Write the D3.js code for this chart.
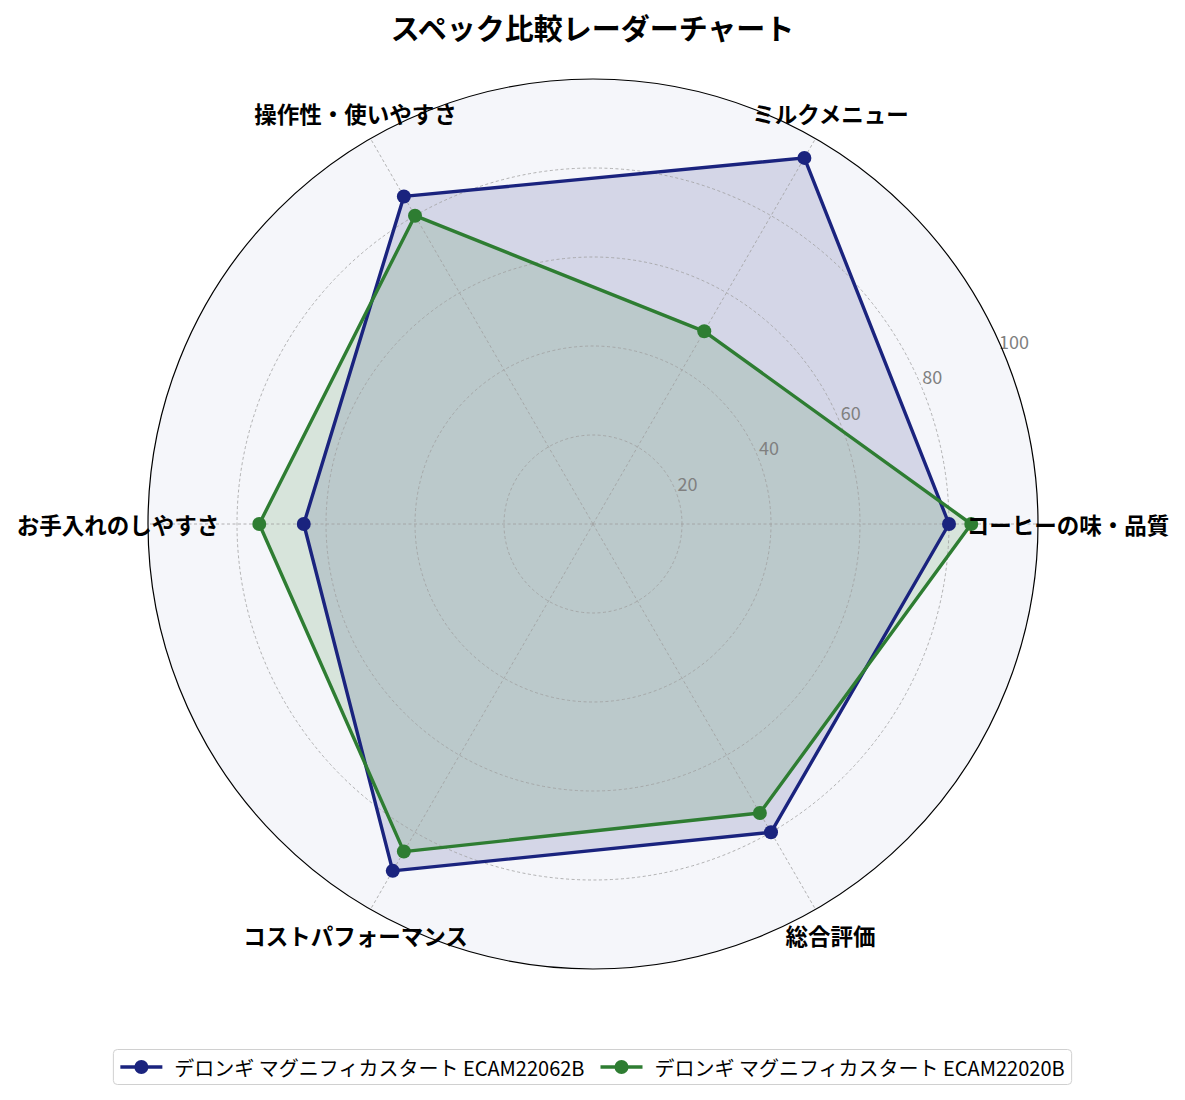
<!DOCTYPE html>
<html>
<head>
<meta charset="utf-8">
<script src="https://cdn.jsdelivr.net/npm/d3@7"></script>
<style>
  body { margin: 0; background: #fff; }
  svg { display: block; font-family: "Noto Sans CJK JP", "Noto Sans", sans-serif; }
</style>
</head>
<body>
<svg id="chart" width="1185" height="1100"></svg>
<script>
// chart data
const categories = ['コーヒーの味・品質', 'ミルクメニュー', '操作性・使いやすさ', 'お手入れのしやすさ', 'コストパフォーマンス', '総合評価'];
const seriesNames = ['デロンギ マグニフィカスタート ECAM22062B', 'デロンギ マグニフィカスタート ECAM22020B'];
const valuesA = [80, 95, 85, 65, 90, 80];
const valuesB = [85, 50, 80, 75, 85, 75];
const rTicks = [20, 40, 60, 80, 100];
const chartTitle = 'スペック比較レーダーチャート';

const colors = ['#1a237e', '#2e7d32'];
const width = 1185, cx = 593, cy = 524, outerR = 445;

const svg = d3.select('#chart');

const r = d3.scaleLinear().domain([0, 100]).range([0, outerR]);
// angle in radians, counter-clockwise from east
const theta = d3.scaleLinear().domain([0, categories.length]).range([0, 2 * Math.PI]);

function px(i, v) { return cx + r(v) * Math.cos(theta(i)); }
function py(i, v) { return cy - r(v) * Math.sin(theta(i)); }

const plot = svg.append('g');

// background disc
plot.append('circle')
	.attr('cx', cx).attr('cy', cy).attr('r', outerR)
	.attr('fill', '#f5f6fa');

// filled polygons
const radial = d3.lineRadial()
	.angle((d, i) => Math.PI / 2 - theta(i))
	.radius(d => r(d))
	.curve(d3.curveLinearClosed);

const series = [valuesA, valuesB];

series.forEach((vals, k) => {
	plot.append('path')
		.attr('transform', `translate(${cx},${cy})`)
		.attr('d', radial(vals))
		.attr('fill', colors[k])
		.attr('fill-opacity', 0.15)
		.attr('stroke', 'none');
});

// grid
const grid = plot.append('g');
grid.selectAll('circle.ring')
	.data(rTicks.filter(t => t < 100))
	.enter().append('circle')
	.attr('class', 'ring')
	.attr('cx', cx).attr('cy', cy)
	.attr('r', d => r(d))
	.attr('fill', 'none')
	.attr('stroke', '#a0a0a0')
	.attr('stroke-width', 0.8)
	.attr('stroke-dasharray', '3,2.5');

grid.selectAll('line.spoke')
	.data(categories)
	.enter().append('line')
	.attr('class', 'spoke')
	.attr('x1', cx).attr('y1', cy)
	.attr('x2', (d, i) => px(i, 100))
	.attr('y2', (d, i) => py(i, 100))
	.attr('stroke', '#a0a0a0')
	.attr('stroke-width', 0.8)
	.attr('stroke-dasharray', '3,2.5');

// radial tick labels
const tickAngle = 23.5 * Math.PI / 180;
grid.selectAll('text.rtick')
	.data(rTicks)
	.enter().append('text')
	.attr('class', 'rtick')
	.attr('x', d => cx + (r(d) + 14) * Math.cos(tickAngle))
	.attr('y', d => cy - (r(d) + 14) * Math.sin(tickAngle))
	.attr('text-anchor', 'middle')
	.attr('dominant-baseline', 'central')
	.attr('font-size', 18)
	.attr('fill', '#808080')
	.text(d => d);

// lines and markers
series.forEach((vals, k) => {
	plot.append('path')
		.attr('transform', `translate(${cx},${cy})`)
		.attr('d', radial(vals))
		.attr('fill', 'none')
		.attr('stroke', colors[k])
		.attr('stroke-width', 3.4)
		.attr('stroke-linejoin', 'round');

	plot.selectAll(null)
		.data(vals)
		.enter().append('circle')
		.attr('cx', (d, i) => px(i, d))
		.attr('cy', (d, i) => py(i, d))
		.attr('r', 7)
		.attr('fill', colors[k]);
});

// outer spine
plot.append('circle')
	.attr('cx', cx).attr('cy', cy).attr('r', outerR)
	.attr('fill', 'none')
	.attr('stroke', '#000')
	.attr('stroke-width', 1.2);

// category labels
plot.selectAll('text.cat')
	.data(categories)
	.enter().append('text')
	.attr('class', 'cat')
	.attr('x', (d, i) => cx + (outerR + 30) * Math.cos(theta(i)))
	.attr('y', (d, i) => cy - (outerR + 30) * Math.sin(theta(i)))
	.attr('text-anchor', 'middle')
	.attr('dominant-baseline', 'central')
	.attr('font-size', 22.5)
	.attr('font-weight', 'bold')
	.attr('fill', '#000')
	.text(d => d);

// title
svg.append('text')
	.attr('x', width / 2)
	.attr('y', 27)
	.attr('text-anchor', 'middle')
	.attr('dominant-baseline', 'central')
	.attr('font-size', 29)
	.attr('font-weight', 'bold')
	.text(chartTitle);

// legend
const legend = svg.append('g');
const legendY = 1067;
const box = legend.append('rect')
	.attr('fill', '#fff')
	.attr('stroke', '#d0d0d0')
	.attr('stroke-width', 1)
	.attr('rx', 4);

let xpos = 0;
const items = [];
seriesNames.forEach((name, k) => {
	const g = legend.append('g');
	g.append('line')
		.attr('x1', 0).attr('x2', 42)
		.attr('y1', legendY).attr('y2', legendY)
		.attr('stroke', colors[k])
		.attr('stroke-width', 3.4);
	g.append('circle')
		.attr('cx', 21).attr('cy', legendY).attr('r', 7)
		.attr('fill', colors[k]);
	const t = g.append('text')
		.attr('x', 54)
		.attr('y', legendY)
		.attr('dominant-baseline', 'central')
		.attr('font-size', 20)
		.attr('fill', '#000')
		.text(name);
	const w = 54 + t.node().getComputedTextLength();
	g.attr('transform', `translate(${xpos},0)`);
	items.push(g);
	xpos += w + 16;
});
const totalW = xpos - 16;
const startX = width / 2 - totalW / 2;
items.forEach(g => {
	const cur = g.attr('transform').match(/translate\(([-\d.]+)/)[1];
	g.attr('transform', `translate(${startX + (+cur)},0)`);
});
box.attr('x', startX - 7)
	.attr('y', legendY - 17.5)
	.attr('width', totalW + 14)
	.attr('height', 35);
</script>
</body>
</html>
